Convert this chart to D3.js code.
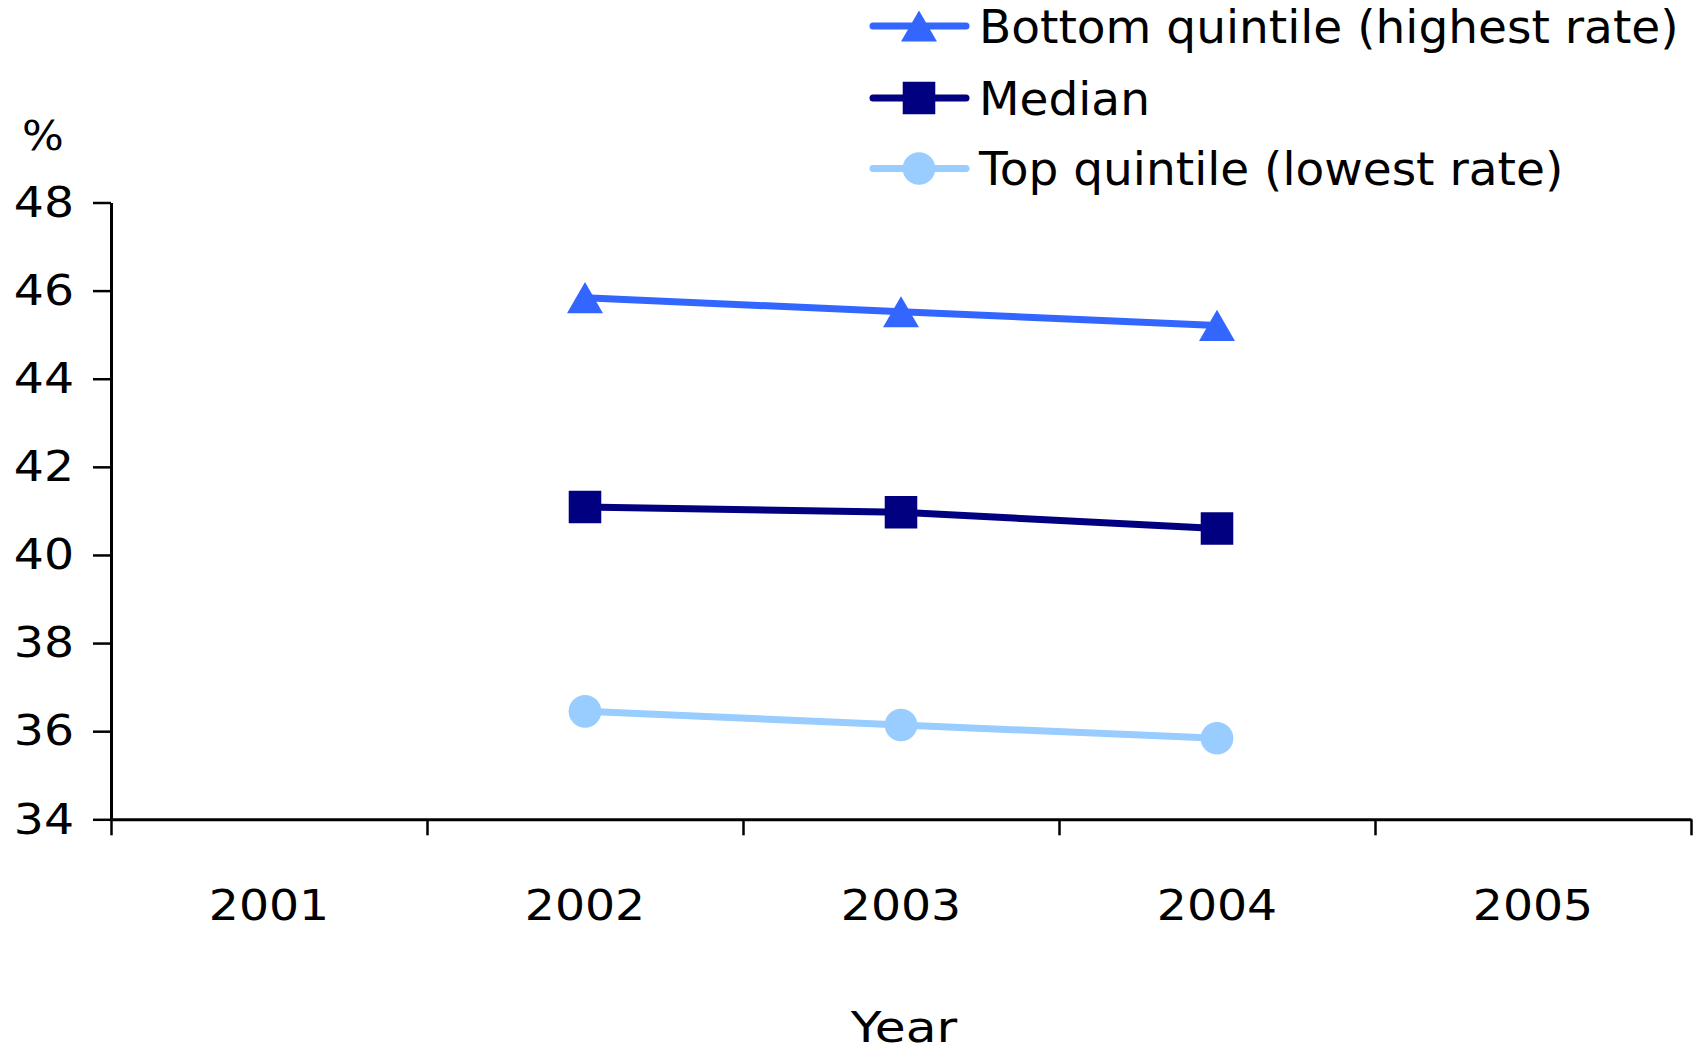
<!DOCTYPE html>
<html>
<head>
<meta charset="utf-8">
<script src="https://cdn.jsdelivr.net/npm/d3@7"></script>
<style>
  html, body { margin: 0; padding: 0; background: #fff; }
  svg { display: block; font-family: "DejaVu Sans", Verdana, sans-serif; }
</style>
</head>
<body>
<svg id="chart" width="1705" height="1054"></svg>
<script>
// Categories and series values
const years = ["2001", "2002", "2003", "2004", "2005"];
const dataYears = ["2002", "2003", "2004"];
const bottomQuintile = [45.84, 45.52, 45.21];
const median = [41.09, 40.97, 40.60];
const topQuintile = [36.45, 36.14, 35.84];
const yTicks = [34, 36, 38, 40, 42, 44, 46, 48];
const seriesNames = ["Bottom quintile (highest rate)", "Median", "Top quintile (lowest rate)"];
const yUnit = "%";
const xTitle = "Year";

const svg = d3.select("#chart");

const plotLeft = 111, plotRight = 1691, plotTop = 202.5, plotBottom = 819.3;
const wide = 1.1; // horizontal stretch of the axis lettering

const x = d3.scaleBand().domain(years).range([plotLeft, plotRight]).paddingInner(0).paddingOuter(0);
const xBoundary = d3.scaleLinear().domain([0, years.length]).range([plotLeft, plotRight]);
const y = d3.scaleLinear().domain([34, 48]).range([plotBottom, plotTop]);

// Triangle centred on its bounding box
const bboxTriangle = {
  draw(context, size) {
    const s = Math.sqrt(size * 4 / Math.sqrt(3));
    const h = s * Math.sqrt(3) / 2;
    context.moveTo(0, -h / 2);
    context.lineTo(s / 2, h / 2);
    context.lineTo(-s / 2, h / 2);
    context.closePath();
  }
};

const series = [
  { name: seriesNames[0], values: bottomQuintile, color: "#3366FF", symbol: bboxTriangle, size: 560 },
  { name: seriesNames[1], values: median, color: "#000080", symbol: d3.symbolSquare, size: 1060 },
  { name: seriesNames[2], values: topQuintile, color: "#99CCFF", symbol: d3.symbolCircle, size: 840 }
];

// Y axis
const yAxis = svg.append("g")
  .attr("transform", `translate(${plotLeft},0)`)
  .call(d3.axisLeft(y).tickValues(yTicks).tickSize(18).tickSizeOuter(0).tickPadding(19).tickFormat(d3.format("d")));
yAxis.select(".domain").attr("stroke", "#000").attr("stroke-width", 3);
yAxis.selectAll(".tick line").attr("stroke", "#000").attr("stroke-width", 2.5);
yAxis.selectAll(".tick text")
  .attr("font-size", 43).attr("fill", "#000")
  .attr("font-family", "DejaVu Sans, Verdana, sans-serif")
  .attr("x", 0)
  .attr("transform", `translate(-37,0) scale(${wide},1)`);

// X axis: tick marks on category boundaries
const xTickAxis = svg.append("g")
  .attr("transform", `translate(0,${plotBottom})`)
  .call(d3.axisBottom(xBoundary).tickValues(d3.range(years.length + 1)).tickSize(16).tickSizeOuter(0).tickFormat(""));
xTickAxis.select(".domain").attr("stroke", "#000").attr("stroke-width", 3);
xTickAxis.selectAll(".tick line").attr("stroke", "#000").attr("stroke-width", 2.5);

// X axis: category labels centred in each band
const xLabelAxis = svg.append("g")
  .attr("transform", `translate(0,${plotBottom})`)
  .call(d3.axisBottom(x).tickSize(0).tickPadding(70));
xLabelAxis.select(".domain").remove();
xLabelAxis.selectAll(".tick text")
  .attr("font-size", 43).attr("fill", "#000")
  .attr("font-family", "DejaVu Sans, Verdana, sans-serif")
  .attr("transform", `scale(${wide},1)`);

// Unit label and axis title
svg.append("text").attr("text-anchor", "middle")
  .attr("transform", `translate(43,150) scale(${wide},1)`)
  .attr("font-size", 40).attr("fill", "#000").text(yUnit);
svg.append("text").attr("text-anchor", "middle")
  .attr("transform", `translate(${(plotLeft + plotRight) / 2 + 3},1042) scale(1.17,1)`)
  .attr("font-size", 43).attr("fill", "#000").text(xTitle);

// Series lines and markers
const px = d => x(d) + x.bandwidth() / 2;
const line = d3.line().x(d => px(d.year)).y(d => y(d.value));

series.forEach(s => {
  const pts = dataYears.map((yr, i) => ({ year: yr, value: s.values[i] }));
  const g = svg.append("g");
  g.append("path").datum(pts).attr("d", line)
    .attr("fill", "none").attr("stroke", s.color).attr("stroke-width", 7);
  g.selectAll("path.marker").data(pts).join("path").attr("class", "marker")
    .attr("transform", d => `translate(${px(d.year)},${y(d.value)})`)
    .attr("d", d3.symbol().type(s.symbol).size(s.size))
    .attr("fill", s.color);
});

// Legend
const legendY = [26, 98, 168.5];
const legend = svg.append("g");
series.forEach((s, i) => {
  const g = legend.append("g").attr("transform", `translate(0,${legendY[i]})`);
  g.append("line").attr("x1", 873).attr("x2", 966).attr("y1", 0).attr("y2", 0)
    .attr("stroke", s.color).attr("stroke-width", 7).attr("stroke-linecap", "round");
  g.append("path").attr("transform", "translate(919,0)")
    .attr("d", d3.symbol().type(s.symbol).size(s.size)).attr("fill", s.color);
  g.append("text").attr("x", 979).attr("y", 0).attr("dy", "0.36em")
    .attr("font-size", 47).attr("fill", "#000").text(s.name);
});
</script>
</body>
</html>
